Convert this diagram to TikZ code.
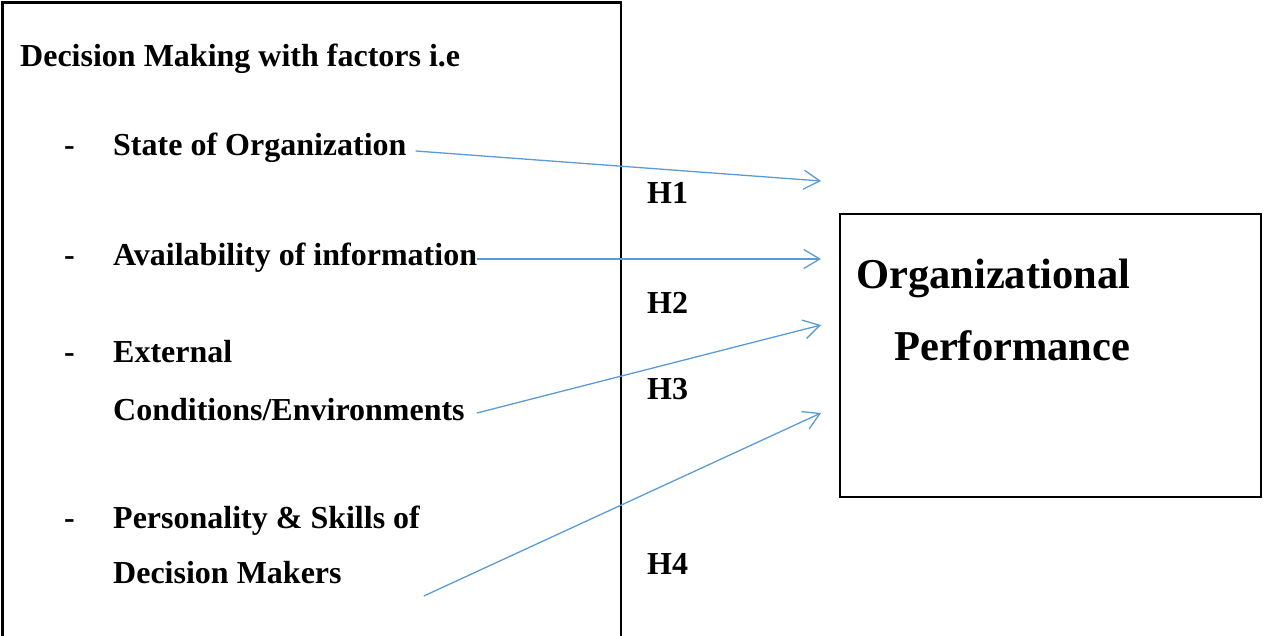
\documentclass[tikz,border=0pt]{standalone}
\usepackage{fontspec}
\setmainfont{Liberation Serif}
\usetikzlibrary{arrows.meta,calc}
\definecolor{linkblue}{RGB}{91,155,213}
\begin{document}
\begin{tikzpicture}[x=1pt,y=-1pt,
  lbl/.style={anchor=base west,inner sep=0pt,font=\fontsize{32}{38}\selectfont\bfseries},
  big/.style={anchor=base west,inner sep=0pt,font=\fontsize{42.5}{50}\selectfont\bfseries},
  frame/.style={draw=black,line width=2.5pt},
  outcome/.style={draw=black,line width=2pt,minimum width=421pt,minimum height=283pt,inner sep=0pt},
  link/.style={draw=linkblue,line width=1.3pt,-{Straight Barb[length=16pt,width=19pt]}}]
\useasboundingbox (0,0) rectangle (1265,635);

% factor panel, open at the bottom
\draw[frame] (2.5,645) -- (2.5,2.5) -- (621,2.5) -- (621,645);

\node[lbl] (title) at (20,66) {Decision Making with factors i.e};

\node[lbl] (d1) at (64,155) {-};
\node[lbl] (f1) at (113,155) {State of Organization};
\node[lbl] (d2) at (64,265) {-};
\node[lbl] (f2) at (113,265) {Availability of information};
\node[lbl] (d3) at (64,362) {-};
\node[lbl] (f3a) at (113,362) {External};
\node[lbl] (f3b) at (113,420) {Conditions/Environments};
\node[lbl] (d4) at (64,528) {-};
\node[lbl] (f4a) at (113,528) {Personality \& Skills of};
\node[lbl] (f4b) at (113,583) {Decision Makers};

% outcome box
\node[outcome] (perf) at (1050.5,355.5) {};
\node[big] (o1) at (856,288) {Organizational};
\node[big] (o2) at (894,360) {Performance};

% hypothesis labels
\node[lbl] (h1) at (647,203) {H1};
\node[lbl] (h2) at (647,313) {H2};
\node[lbl] (h3) at (647,399) {H3};
\node[lbl] (h4) at (647,574) {H4};

% connector ends
\coordinate (s1) at ($(f1.base east)+(9,-4)$);
\coordinate (s2) at ($(f2.base east)+(0,-6)$);
\coordinate (s3) at ($(f3b.base east)+(12,-7)$);
\coordinate (s4) at ($(f4b.base east)+(82,13)$);
\coordinate (t1) at ($(perf.west)+(-18,-174.5)$);
\coordinate (t2) at ($(perf.west)+(-18,-96.5)$);
\coordinate (t3) at ($(perf.west)+(-18,-30.5)$);
\coordinate (t4) at ($(perf.west)+(-18,57.5)$);

\draw[link] (s1) -- (t1);
\draw[link] (s2) -- (t2);
\draw[link] (s3) -- (t3);
\draw[link] (s4) -- (t4);
\end{tikzpicture}
\end{document}
